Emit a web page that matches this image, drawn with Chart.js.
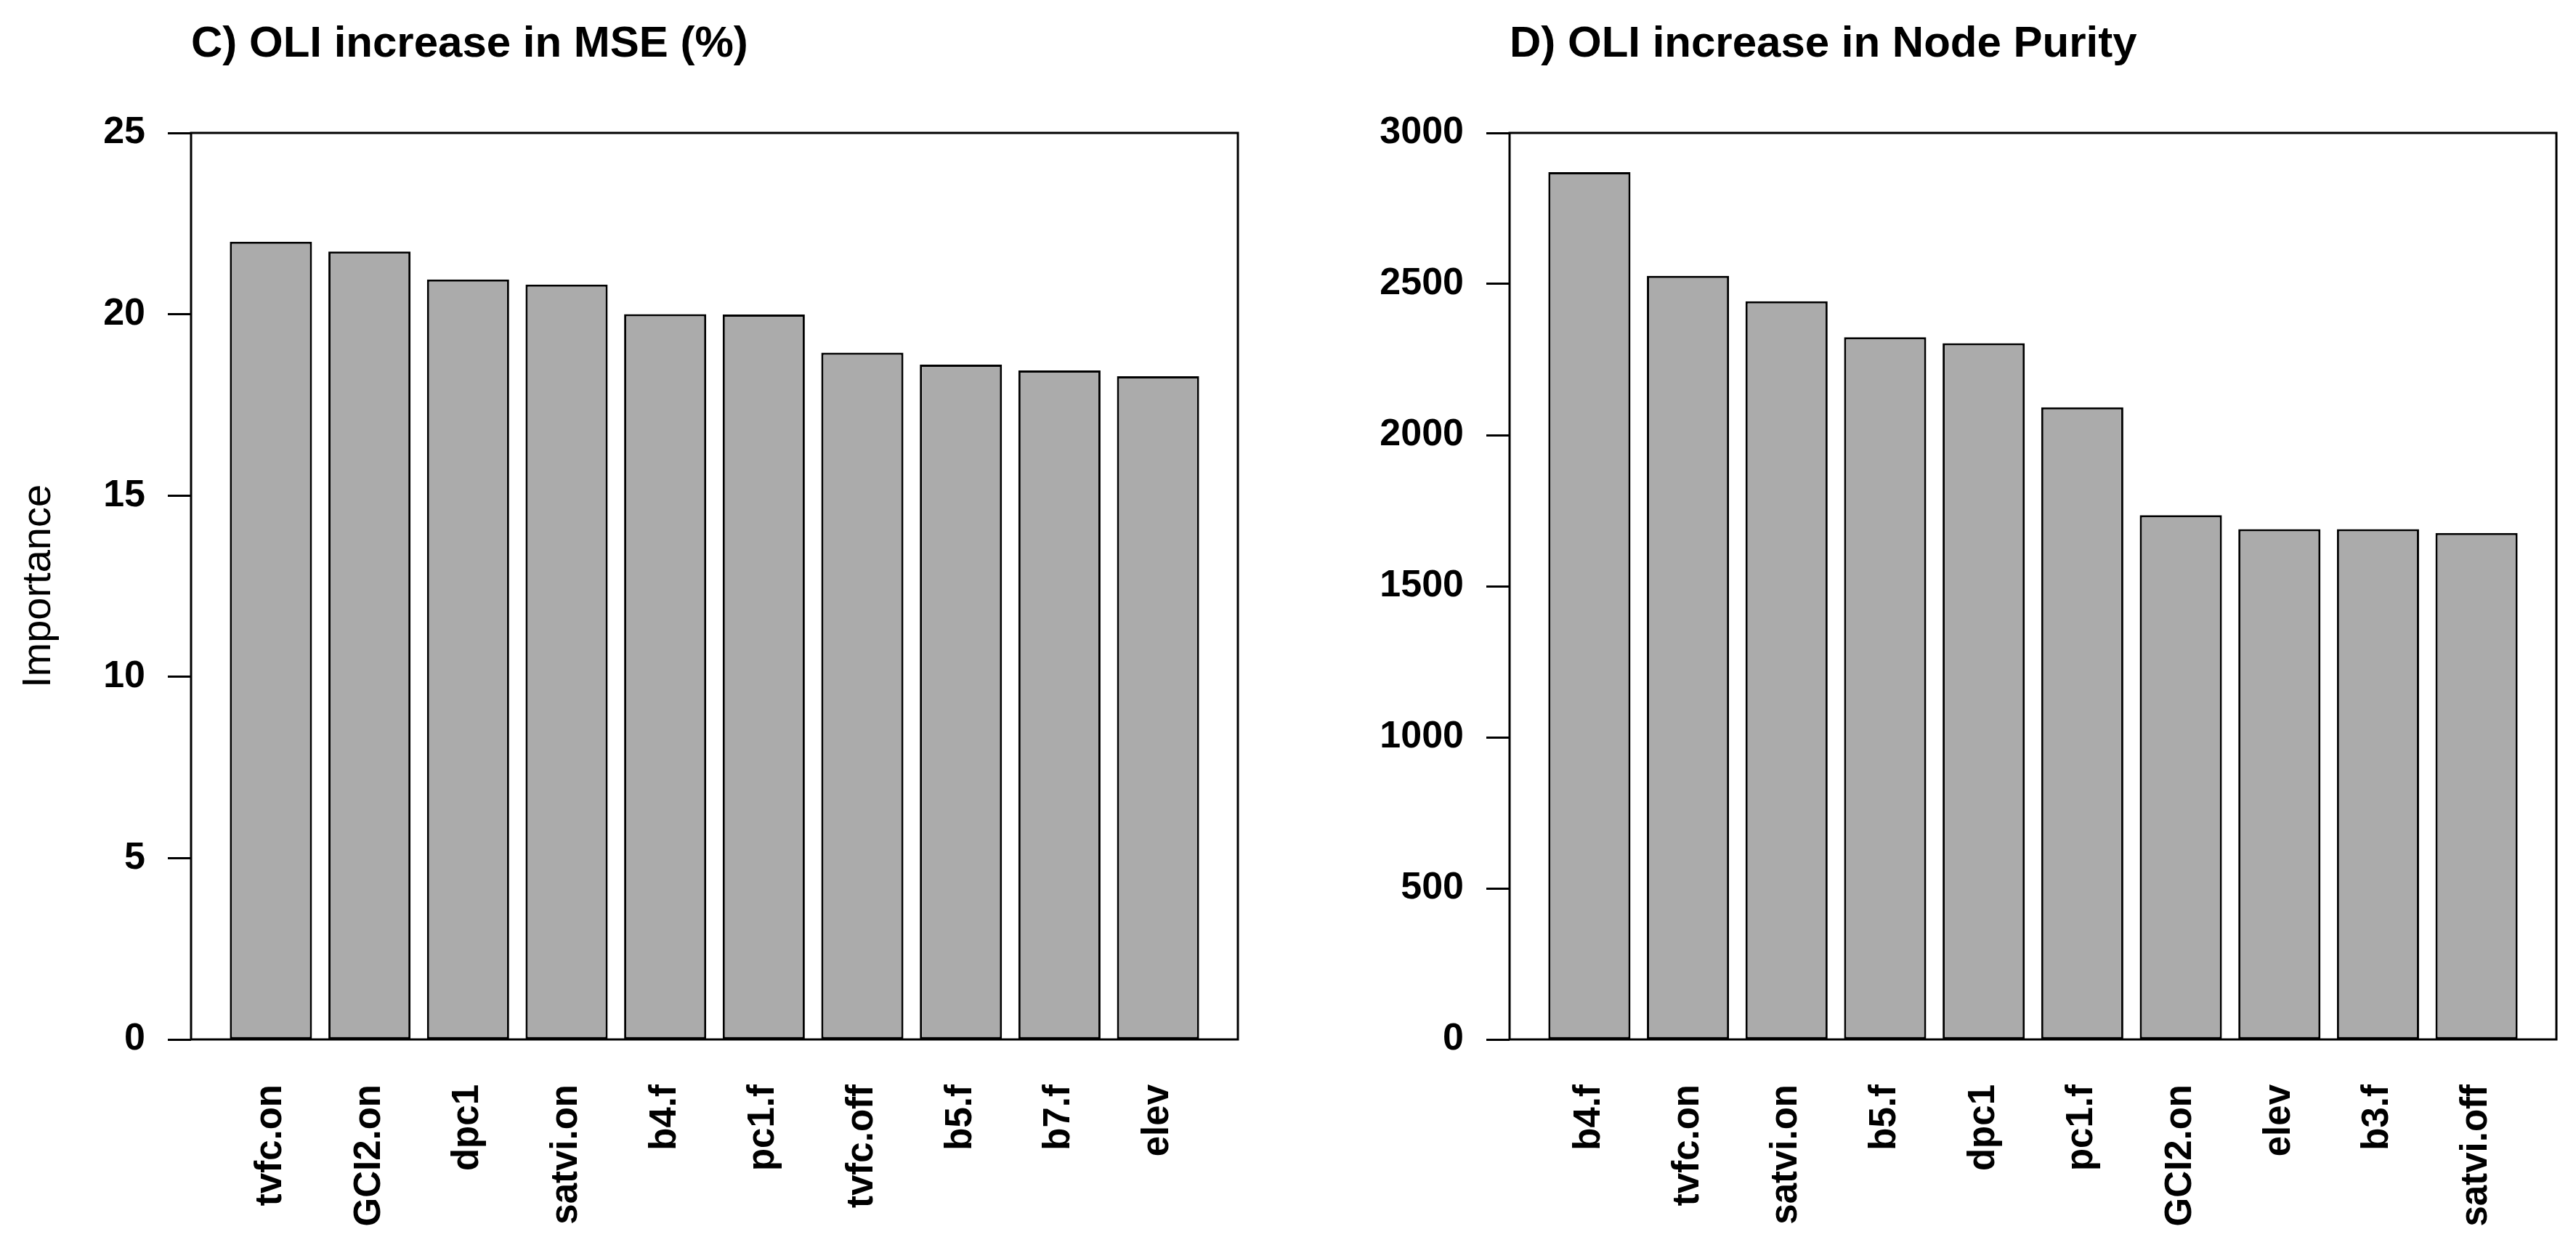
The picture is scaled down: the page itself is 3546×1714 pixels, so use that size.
<!DOCTYPE html>
<html>
<head>
<meta charset="utf-8">
<script src="https://cdn.jsdelivr.net/npm/chart.js@4"></script>
<style>
  html, body { margin: 0; padding: 0; background: #ffffff; }
  body { width: 3546px; height: 1714px; position: relative; overflow: hidden; }
  canvas { position: absolute; top: 0; }
  #c1 { left: 0; }
  #c2 { left: 1773px; }
</style>
</head>
<body>
<canvas id="c1" width="1773" height="1714"></canvas>
<canvas id="c2" width="1773" height="1714"></canvas>
<script>
// ---- data ----
const mseTitle = 'C) OLI increase in MSE (%)';
const mseLabels = ['tvfc.on', 'GCI2.on', 'dpc1', 'satvi.on', 'b4.f', 'pc1.f', 'tvfc.off', 'b5.f', 'b7.f', 'elev'];
const mseValues = [22.0, 21.73, 20.96, 20.82, 20.0, 19.99, 18.94, 18.61, 18.45, 18.29];
const mseTicks = [0, 5, 10, 15, 20, 25];

const purityTitle = 'D) OLI increase in Node Purity';
const purityLabels = ['b4.f', 'tvfc.on', 'satvi.on', 'b5.f', 'dpc1', 'pc1.f', 'GCI2.on', 'elev', 'b3.f', 'satvi.off'];
const purityValues = [2870, 2527, 2443, 2324, 2304, 2092, 1735, 1689, 1689, 1676];
const purityTicks = [0, 500, 1000, 1500, 2000, 2500, 3000];

const yAxisTitle = 'Importance';

// ---- drawing ----
const FONT = "'Liberation Sans', Arial, Helvetica, sans-serif";

const boxPlugin = {
  id: 'plotBox',
  afterDatasetsDraw(chart) {
    const a = chart.chartArea;
    const ctx = chart.ctx;
    ctx.save();
    ctx.strokeStyle = '#000';
    ctx.lineWidth = 3;
    ctx.strokeRect(a.left, a.top, a.right - a.left, a.bottom - a.top);
    ctx.restore();
  }
};

function makeChart(id, title, labels, values, yTicks, opts) {
  const n = labels.length;
  return new Chart(document.getElementById(id), {
    type: 'bar',
    data: {
      datasets: [{
        data: values.map((v, i) => ({ x: i + 1, y: v })),
        backgroundColor: '#ababab',
        borderColor: '#000000',
        borderWidth: 3,
        borderSkipped: false,
        categoryPercentage: 1.0,
        barPercentage: 1 / 1.2
      }]
    },
    options: {
      responsive: false,
      devicePixelRatio: 1,
      animation: false,
      layout: { padding: { left: 0, right: opts.padRight, top: 0, bottom: 0 } },
      plugins: {
        legend: { display: false },
        tooltip: { enabled: false },
        title: {
          display: true,
          text: title,
          align: 'start',
          fullSize: false,
          color: '#000',
          font: { family: FONT, size: 60, weight: 'bold', lineHeight: 1.2 },
          padding: { top: 25, bottom: 86 }
        }
      },
      scales: {
        x: {
          type: 'linear',
          offset: false,
          min: 1 - 0.81,
          max: n + 0.81,
          afterBuildTicks(scale) {
            scale.ticks = labels.map((_, i) => ({ value: i + 1 }));
          },
          afterFit(scale) { scale.height = 283; },
          grid: { display: false, drawTicks: false, offset: false },
          border: { display: false },
          ticks: {
            autoSkip: false,
            minRotation: 90,
            maxRotation: 90,
            padding: 62,
            color: '#000',
            font: { family: FONT, size: 51, weight: 'bold' },
            callback: (v) => labels[Math.round(v) - 1]
          }
        },
        y: {
          min: yTicks[0],
          max: yTicks[yTicks.length - 1],
          afterBuildTicks(scale) {
            scale.ticks = yTicks.map(v => ({ value: v }));
          },
          afterFit(scale) { scale.width = opts.yWidth; },
          grid: {
            display: true,
            drawOnChartArea: false,
            drawTicks: true,
            tickLength: 32,
            tickColor: '#000',
            tickWidth: 3
          },
          border: { display: false },
          ticks: {
            padding: 31,
            color: '#000',
            font: { family: FONT, size: 52, weight: 'bold' },
            callback: (v) => String(v)
          },
          title: {
            display: !!opts.yTitle,
            text: opts.yTitle || '',
            color: '#000',
            font: { family: FONT, size: 56, weight: 'normal', lineHeight: 1.2 },
            padding: { top: 20, bottom: 0 }
          }
        }
      }
    },
    plugins: [boxPlugin]
  });
}

makeChart('c1', mseTitle, mseLabels, mseValues, mseTicks, { yWidth: 263, padRight: 69, yTitle: yAxisTitle });
makeChart('c2', purityTitle, purityLabels, purityValues, purityTicks, { yWidth: 305, padRight: 27, yTitle: null });
</script>
</body>
</html>
